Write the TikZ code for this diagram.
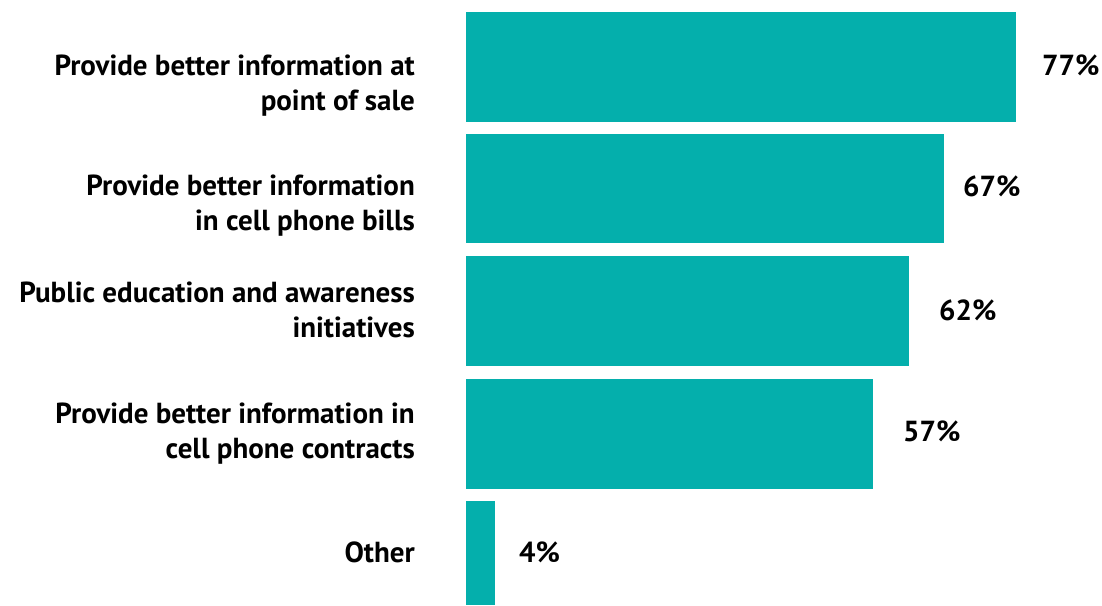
\documentclass[tikz,border=0pt]{standalone}
\usepackage{fontspec}
\setmainfont{PT Sans}
\definecolor{barteal}{RGB}{4,175,172}

\begin{document}
\begin{tikzpicture}[x=1pt,y=-1pt,
    bar/.style={fill=barteal},
    catlabel/.style={anchor=base east,align=right,inner sep=0pt,
      font=\fontsize{29}{35}\selectfont\bfseries},
    pctlabel/.style={anchor=base west,inner sep=0pt,
      font=\fontsize{29}{35}\selectfont\bfseries}]

    \useasboundingbox (0,0) rectangle (1102,605);

    % The bars, one per answer
    \foreach \top/\bot/\len in {
    12/122/1016,
    134/243/944,
    256/366/909,
    379/489/873,
    501/605/495} {
        \fill [bar] (466,\top) rectangle (\len,\bot);
    }

    % Percentages to the right of the bars
    \foreach \nm/\x/\y/\lab in {
    pctA/1042/75/77,
    pctB/963/196/67,
    pctC/939/320/62,
    pctD/903/441/57,
    pctE/519/562/4} {
        \node [pctlabel] (\nm) at (\x,\y) {\lab\%};
    }

    % Answer labels, right aligned against the bars (base = last line)
    \node [catlabel] (catA) at (415,110) {Provide better information at\\point of sale};
    \node [catlabel] (catB) at (415,230) {Provide better information\\in cell phone bills};
    \node [catlabel] (catC) at (415,337) {Public education and awareness\\initiatives};
    \node [catlabel] (catD) at (415,458) {Provide better information in\\cell phone contracts};
    \node [catlabel] (catE) at (415,562) {Other};

\end{tikzpicture}
\end{document}
